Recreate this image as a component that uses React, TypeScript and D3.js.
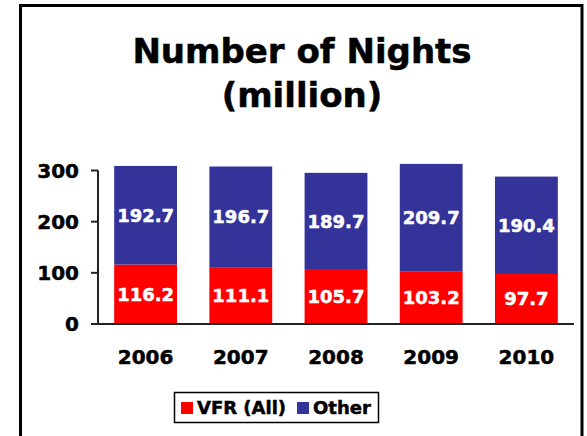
import React from 'react';
import * as d3 from 'd3';

const years = ['2006', '2007', '2008', '2009', '2010'];
const vfr = [116.2, 111.1, 105.7, 103.2, 97.7];
const other = [192.7, 196.7, 189.7, 209.7, 190.4];
const yTicks = [0, 100, 200, 300];
const seriesNames = ['VFR (All)', 'Other'];
const seriesColors = ['#ff0000', '#333399'];

const W = 587;
const H = 436;
const font = "'DejaVu Sans', Verdana, sans-serif";

export default function App() {
  const x = d3.scaleBand().domain(years).range([98, 574]).paddingInner(0.34).paddingOuter(0.17);
  const y = d3.scaleLinear().domain([0, 300]).range([324, 170.5]);

  const rows = years.map((yr, i) => ({ year: yr, vfr: vfr[i], other: other[i] }));
  const stack = d3.stack<any>().keys(['vfr', 'other'])(rows);

  // a thin outline makes DejaVu bold look closer to the heavier original
  const heavy = (c: string) => ({ stroke: c, strokeWidth: 0.5 });

  return (
    <svg width={W} height={H} style={{ position: 'absolute', left: 0, top: 0, display: 'block', background: '#fff' }}>
      <rect x={20.5} y={5.5} width={561.5} height={440} fill="#fff" stroke="#000" strokeWidth={3} />

      <text x={302} y={63} textAnchor="middle" fontFamily={font} fontWeight="bold" fontSize={34} {...heavy('#000')}>Number of Nights</text>
      <text x={302} y={107} textAnchor="middle" fontFamily={font} fontWeight="bold" fontSize={34} {...heavy('#000')}>(million)</text>

      {stack.map((layer, si) => (
        <g key={si}>
          {layer.map((d, i) => {
            const x0 = x(years[i]) as number;
            const y0 = y(d[1]);
            const y1 = y(d[0]);
            const val = si === 0 ? vfr[i] : other[i];
            return (
              <g key={i}>
                <rect x={x0} y={y0} width={x.bandwidth()} height={y1 - y0} fill={seriesColors[si]} />
                <text x={x0 + x.bandwidth() / 2} y={(y0 + y1) / 2} dy="0.36em" textAnchor="middle"
                  fill="#fff" fontFamily={font} fontWeight="bold" fontSize={18} {...heavy('#fff')}>{val.toFixed(1)}</text>
              </g>
            );
          })}
        </g>
      ))}

      {/* axes */}
      <line x1={98} x2={98} y1={y(300)} y2={y(0)} stroke="#222" strokeWidth={2} />
      <line x1={97} x2={574} y1={y(0)} y2={y(0)} stroke="#222" strokeWidth={2} />
      {yTicks.map(t => (
        <g key={t}>
          <line x1={91} x2={98} y1={y(t)} y2={y(t)} stroke="#222" strokeWidth={2} />
          <text x={79} y={y(t)} dy="0.36em" textAnchor="end" fontFamily={font} fontWeight="bold" fontSize={20} {...heavy('#000')}>{t}</text>
        </g>
      ))}
      {years.map(yr => (
        <text key={yr} x={(x(yr) as number) + x.bandwidth() / 2} y={364} textAnchor="middle"
          fontFamily={font} fontWeight="bold" fontSize={20} {...heavy('#000')}>{yr}</text>
      ))}

      {/* legend */}
      <rect x={174.5} y={392.5} width={204} height={30} fill="#fff" stroke="#000" strokeWidth={1.5} />
      <rect x={181} y={402} width={12} height={12} fill={seriesColors[0]} />
      <text x={197} y={414} fontFamily={font} fontWeight="bold" fontSize={18} {...heavy('#000')}>{seriesNames[0]}</text>
      <rect x={297} y={402} width={12} height={12} fill={seriesColors[1]} />
      <text x={313} y={414} fontFamily={font} fontWeight="bold" fontSize={18} {...heavy('#000')}>{seriesNames[1]}</text>
    </svg>
  );
}
